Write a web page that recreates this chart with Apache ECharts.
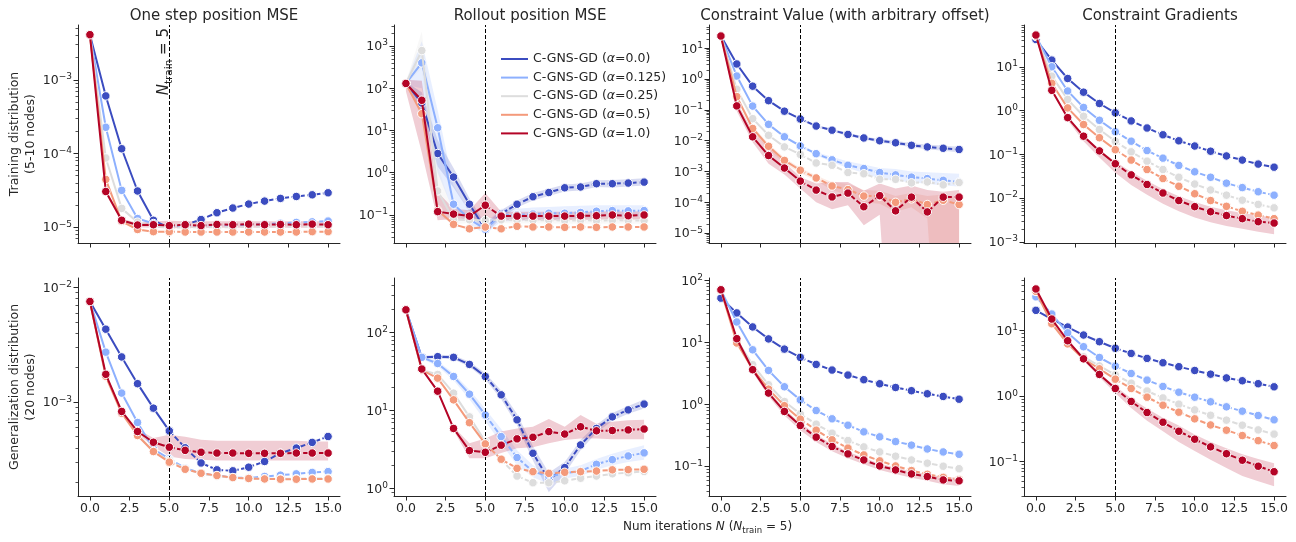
<!DOCTYPE html>
<html><head><meta charset="utf-8">
<script src="https://cdn.jsdelivr.net/npm/echarts@6/dist/echarts.min.js"></script>
<style>html,body{margin:0;padding:0;background:#fff}#c{width:1296px;height:542px}</style>
</head><body><div id="c"></div>
<script>
// ---------------- DATA ----------------
const ITER = [0,1,2,3,4,5,6,7,8,9,10,11,12,13,14,15];
const X_TICKS = [0,2.5,5,7.5,10,12.5,15];
const ALPHA_LABELS = ['C-GNS-GD (α=0.0)','C-GNS-GD (α=0.125)','C-GNS-GD (α=0.25)','C-GNS-GD (α=0.5)','C-GNS-GD (α=1.0)'];
const COL_TITLES = ['One step position MSE','Rollout position MSE','Constraint Value (with arbitrary offset)','Constraint Gradients'];
const ROW_LABELS = ['Training distribution\n(5-10 nodes)','Generalization distribution\n(20 nodes)'];
const N_TRAIN = 5;

// One step position MSE - training
const osTrain_a0   = [4.1e-3,6.05e-4,1.16e-4,3.1e-5,1.24e-5,9.8e-6,1.08e-5,1.27e-5,1.57e-5,1.82e-5,2.06e-5,2.26e-5,2.46e-5,2.61e-5,2.75e-5,2.93e-5];
const osTrain_a125 = [4.1e-3,2.27e-4,3.16e-5,1.31e-5,1.12e-5,1.0e-5,1.03e-5,1.04e-5,1.05e-5,1.06e-5,1.08e-5,1.1e-5,1.13e-5,1.16e-5,1.18e-5,1.21e-5];
const osTrain_a25  = [4.1e-3,8.7e-5,1.8e-5,1.17e-5,1.03e-5,9.9e-6,9.9e-6,1.0e-5,1.0e-5,1.0e-5,1.01e-5,1.01e-5,1.01e-5,1.02e-5,1.02e-5,1.02e-5];
const osTrain_a5   = [4.1e-3,4.45e-5,1.2e-5,9.3e-6,8.7e-6,8.7e-6,8.6e-6,8.6e-6,8.6e-6,8.6e-6,8.6e-6,8.6e-6,8.6e-6,8.6e-6,8.7e-6,8.7e-6];
const osTrain_a1   = [4.1e-3,3.05e-5,1.24e-5,1.07e-5,1.08e-5,1.05e-5,1.08e-5,1.05e-5,1.09e-5,1.08e-5,1.1e-5,1.08e-5,1.09e-5,1.08e-5,1.1e-5,1.08e-5];
const osTrain_a1_hi = [4.3e-3,3.3e-5,1.3e-5,1.15e-5,1.2e-5,1.22e-5,1.2e-5,1.2e-5,1.2e-5,1.2e-5,1.2e-5,1.2e-5,1.2e-5,1.2e-5,1.2e-5,1.2e-5];
const osTrain_a1_lo = [3.9e-3,2.8e-5,1.18e-5,1.0e-5,9.8e-6,9.6e-6,9.8e-6,9.7e-6,9.8e-6,9.8e-6,9.8e-6,9.8e-6,9.8e-6,9.8e-6,9.8e-6,9.8e-6];
const osTrain_ticks = [1e-5,1e-4,1e-3];

// Rollout position MSE - training
const roTrain_a0   = [130,45,2.85,0.79,0.18,0.046,0.107,0.18,0.27,0.34,0.44,0.46,0.55,0.55,0.57,0.6];
const roTrain_a125 = [130,400,11.6,0.18,0.08,0.046,0.1,0.1,0.105,0.11,0.11,0.115,0.123,0.127,0.125,0.127];
const roTrain_a25  = [130,780,0.37,0.077,0.077,0.074,0.077,0.075,0.075,0.075,0.074,0.075,0.074,0.075,0.074,0.074];
const roTrain_a5   = [130,25,0.13,0.06,0.047,0.052,0.047,0.054,0.052,0.052,0.051,0.052,0.051,0.052,0.052,0.052];
const roTrain_a1   = [130,52,0.12,0.105,0.094,0.17,0.094,0.094,0.094,0.094,0.094,0.096,0.096,0.1,0.096,0.1];
const roTrain_a0_hi   = [140,80,6,1.3,0.25,0.06,0.13,0.22,0.33,0.42,0.53,0.56,0.66,0.67,0.7,0.74];
const roTrain_a0_lo   = [120,25,1.4,0.45,0.12,0.036,0.085,0.15,0.22,0.28,0.36,0.38,0.46,0.45,0.47,0.5];
const roTrain_a125_hi = [140,1300,30,0.5,0.12,0.065,0.14,0.14,0.15,0.155,0.16,0.165,0.17,0.17,0.17,0.17];
const roTrain_a125_lo = [120,100,1.0,0.12,0.06,0.035,0.07,0.072,0.075,0.078,0.08,0.085,0.09,0.092,0.09,0.092];
const roTrain_a25_hi  = [140,2200,1.5,0.1,0.09,0.085,0.09,0.09,0.09,0.09,0.09,0.09,0.09,0.09,0.09,0.09];
const roTrain_a25_lo  = [120,300,0.1,0.06,0.065,0.064,0.065,0.063,0.063,0.063,0.062,0.063,0.062,0.063,0.062,0.062];
const roTrain_a1_hi   = [160,150,0.35,0.14,0.13,0.33,0.12,0.12,0.12,0.12,0.12,0.12,0.12,0.125,0.12,0.125];
const roTrain_a1_lo   = [85,3,0.075,0.08,0.07,0.09,0.075,0.075,0.075,0.075,0.075,0.077,0.077,0.08,0.077,0.08];
const roTrain_ticks = [1e-1,1e0,1e1,1e2,1e3];

// Constraint value - training
const cvTrain_a0   = [25,3.1,0.59,0.2,0.091,0.051,0.030,0.022,0.016,0.0123,0.01,0.0086,0.0071,0.0063,0.0057,0.0052];
const cvTrain_a125 = [25,1.26,0.133,0.034,0.0134,0.0068,0.0038,0.0024,0.0016,0.00125,0.00093,0.00078,0.00066,0.00059,0.00052,0.00046];
const cvTrain_a25  = [25,0.47,0.052,0.015,0.0063,0.0036,0.0019,0.0016,0.00093,0.00085,0.00056,0.00056,0.00043,0.00046,0.00037,0.00044];
const cvTrain_a5   = [25,0.27,0.025,0.0066,0.0023,0.0011,0.00062,0.00034,0.00026,0.00016,0.00016,0.0001,0.00013,0.000085,0.000117,0.000085];
const cvTrain_a1   = [25,0.135,0.0134,0.0033,0.0013,0.00049,0.00025,0.00015,0.0002,0.000072,0.000165,0.000053,0.000148,0.000049,0.000148,0.000148];
const cvTrain_a0_hi   = [26,3.3,0.63,0.215,0.098,0.055,0.033,0.024,0.018,0.0138,0.0114,0.0099,0.0083,0.0075,0.0069,0.0064];
const cvTrain_a0_lo   = [24,2.9,0.55,0.186,0.085,0.047,0.027,0.02,0.0142,0.0109,0.0088,0.0075,0.0061,0.0053,0.0047,0.0042];
const cvTrain_a125_hi = [26,1.35,0.145,0.037,0.0147,0.0075,0.0042,0.003,0.0021,0.0017,0.0013,0.0012,0.001,0.00095,0.0009,0.00085];
const cvTrain_a125_lo = [24,1.17,0.122,0.031,0.0122,0.0062,0.0034,0.002,0.0013,0.0009,0.0006,0.0005,0.00045,0.0004,0.00035,0.00033];
const cvTrain_a5_hi   = [26,0.3,0.03,0.008,0.0028,0.0013,0.00075,0.00045,0.0004,0.00025,0.00024,0.00016,0.0002,0.00016,0.00018,0.00014];
const cvTrain_a5_lo   = [24,0.24,0.02,0.0053,0.0018,0.0009,0.0005,0.00025,0.00017,0.0001,0.00009,0.00005,0.00007,3e-5,1e-12,1e-12];
const cvTrain_a1_hi   = [30,0.18,0.02,0.006,0.002,0.00066,0.00041,0.00046,0.00046,0.00024,0.00041,0.00028,0.00035,0.00025,0.00022,0.00025];
const cvTrain_a1_lo   = [21,0.09,0.009,0.0018,0.0008,0.00028,0.0001,0.00006,0.00008,0.000018,4e-5,1e-12,1e-12,1e-12,1e-12,1e-12];
const cvTrain_ticks = [1e-5,1e-4,1e-3,1e-2,1e-1,1e0,1e1];

// Constraint gradients - training
const cgTrain_a0   = [42,14.2,5.4,2.63,1.45,0.89,0.58,0.40,0.28,0.204,0.155,0.118,0.092,0.074,0.06,0.051];
const cgTrain_a125 = [50,10,2.8,1.18,0.6,0.33,0.2,0.122,0.082,0.056,0.04,0.03,0.022,0.0174,0.014,0.0117];
const cgTrain_a25  = [50,6.1,1.8,0.74,0.37,0.2,0.114,0.07,0.045,0.03,0.021,0.0154,0.0117,0.009,0.0072,0.006];
const cgTrain_a5   = [50,4.2,1.15,0.48,0.24,0.128,0.074,0.045,0.028,0.0187,0.0126,0.0088,0.0065,0.005,0.0041,0.0034];
const cgTrain_a1   = [53,2.9,0.69,0.26,0.12,0.061,0.034,0.0205,0.0131,0.0088,0.0064,0.0049,0.004,0.0034,0.0029,0.0027];
const cgTrain_a1_hi = [55,3.1,0.75,0.28,0.13,0.068,0.04,0.025,0.016,0.011,0.0082,0.0064,0.0053,0.0046,0.004,0.0036];
const cgTrain_a1_lo = [50,2.7,0.6,0.2,0.085,0.038,0.02,0.012,0.0075,0.005,0.0036,0.0028,0.0023,0.002,0.0017,0.0015];
const cgTrain_ticks = [1e-3,1e-2,1e-1,1e0,1e1];

// One step position MSE - generalization
const osGen_a0   = [0.00755,0.00433,0.00248,0.00145,0.000887,0.000562,0.0004,0.000295,0.000257,0.000252,0.000271,0.000304,0.000359,0.000398,0.000446,0.000502];
const osGen_a125 = [0.00755,0.00273,0.0012,0.000665,0.00039,0.00032,0.000266,0.00024,0.000229,0.00022,0.000218,0.000225,0.000231,0.000237,0.000244,0.000248];
const osGen_a25  = [0.00755,0.0017,0.00083,0.00052,0.00037,0.00031,0.000262,0.000238,0.000227,0.000219,0.000216,0.000215,0.000215,0.000215,0.000216,0.000217];
const osGen_a5   = [0.00755,0.00168,0.0008,0.000512,0.000371,0.0003,0.00026,0.00024,0.000229,0.00022,0.000216,0.000214,0.000213,0.000213,0.000214,0.000214];
const osGen_a1   = [0.00755,0.00175,0.00083,0.000555,0.000447,0.000405,0.00038,0.000366,0.00036,0.00036,0.000358,0.000358,0.000358,0.00036,0.00036,0.00036];
const osGen_a1_hi = [0.0077,0.0018,0.00086,0.00058,0.000486,0.00052,0.0005,0.00047,0.00046,0.00046,0.00046,0.00046,0.00046,0.00046,0.000455,0.000455];
const osGen_a1_lo = [0.0074,0.0017,0.0008,0.00053,0.00041,0.000336,0.00032,0.000314,0.00031,0.00031,0.00031,0.00031,0.00031,0.00031,0.00031,0.00031];
const osGen_ticks = [1e-3,1e-2];

// Rollout position MSE - generalization
const roGen_a0   = [195,48,49,48,39,27.3,15.9,7.6,2.84,1.3,1.86,3.63,5.9,8.3,10.2,12.1];
const roGen_a125 = [195,48,40,27.3,16.2,8.8,4.64,2.5,1.66,1.43,1.57,1.68,2.05,2.35,2.62,2.87];
const roGen_a25  = [195,33,29,16.7,8.3,4.0,2.34,1.45,1.19,1.19,1.26,1.36,1.45,1.55,1.6,1.66];
const roGen_a5   = [195,33,26,13.7,7.0,3.74,2.38,1.82,1.65,1.57,1.62,1.65,1.68,1.74,1.75,1.77];
const roGen_a1   = [195,34,17.7,5.9,3.07,2.92,3.6,4.34,4.55,5.37,5.0,6.2,5.5,5.55,5.65,5.8];
const roGen_a0_hi   = [200,50,52,51,42,30,18,9,3.5,1.6,2.2,4.2,6.6,9.3,11.4,13.8];
const roGen_a0_lo   = [190,46,46.5,45.5,36.5,25,14,6.5,2.3,0.9,1.55,3.1,5.2,7.4,9.1,10.6];
const roGen_a125_hi = [200,50,43,30,18.5,10.5,5.8,3.1,2.0,1.6,1.8,2.0,2.4,2.8,3.2,3.6];
const roGen_a125_lo = [190,46,37,24.5,14,7.3,3.8,2.0,1.4,1.15,1.35,1.45,1.75,2.0,2.2,2.35];
const roGen_a1_hi   = [200,36,18.5,6.2,3.8,4.4,5.4,5.9,6.2,7.8,6.2,8.8,6.8,7.2,7.5,7.6];
const roGen_a1_lo   = [190,32,17,5.6,2.45,2.45,2.85,3.3,3.4,3.8,4.2,4.4,4.4,4.3,4.3,4.3];
const roGen_ticks = [1e0,1e1,1e2];

// Constraint value - generalization
const cvGen_a0   = [52,30,17.8,11.4,7.8,5.74,4.42,3.58,2.97,2.5,2.15,1.87,1.66,1.48,1.34,1.21];
const cvGen_a125 = [70,21.4,7.6,3.53,1.92,1.18,0.794,0.583,0.46,0.359,0.298,0.25,0.219,0.19,0.17,0.156];
const cvGen_a25  = [70,11,4.37,2.07,1.11,0.7,0.478,0.342,0.26,0.205,0.17,0.145,0.126,0.112,0.1,0.091];
const cvGen_a5   = [70,9.8,3.7,1.76,0.95,0.576,0.382,0.267,0.196,0.152,0.122,0.101,0.085,0.074,0.066,0.061];
const cvGen_a1   = [71,11.5,3.63,1.52,0.767,0.455,0.295,0.208,0.158,0.126,0.101,0.087,0.075,0.068,0.06,0.058];
const cvGen_a1_hi = [73,12.3,3.9,1.65,0.84,0.5,0.325,0.228,0.172,0.137,0.11,0.095,0.082,0.075,0.067,0.065];
const cvGen_a1_lo = [69,10.5,3.3,1.35,0.66,0.38,0.245,0.175,0.135,0.108,0.087,0.075,0.065,0.058,0.051,0.048];
const cvGen_ticks = [1e-1,1e0,1e1,1e2];

// Constraint gradients - generalization
const cgGen_a0   = [20.5,15,11.4,8.6,6.8,5.4,4.5,3.78,3.24,2.82,2.47,2.17,1.9,1.72,1.55,1.39];
const cgGen_a125 = [33,18,9.3,5.7,3.9,2.88,2.22,1.76,1.41,1.15,0.965,0.82,0.687,0.59,0.506,0.435];
const cgGen_a25  = [40,13.1,6.5,4.0,2.9,2.12,1.58,1.2,0.94,0.755,0.617,0.51,0.43,0.36,0.305,0.263];
const cgGen_a5   = [40,12.8,6.3,3.7,2.62,1.82,1.31,0.966,0.728,0.569,0.45,0.363,0.302,0.25,0.209,0.176];
const cgGen_a1   = [43.5,15.1,7.03,3.72,2.15,1.31,0.83,0.562,0.4,0.291,0.22,0.168,0.132,0.105,0.085,0.07];
const cgGen_a1_hi = [45,15.5,7.2,3.8,2.25,1.42,0.93,0.65,0.47,0.355,0.26,0.2,0.16,0.13,0.11,0.094];
const cgGen_a1_lo = [42,14.7,6.8,3.5,1.95,1.12,0.66,0.42,0.29,0.2,0.145,0.107,0.08,0.06,0.05,0.042];
const cgGen_ticks = [1e-1,1e0,1e1];

// ---------------- STYLE / LAYOUT ----------------
const COLORS = ['#3b4cc0','#8db0fe','#dddddd','#f49a7b','#b40426'];
const FONT = 'DejaVu Sans';
const TXT = '#262626';
const GRID_LEFT = [78,394,709,1024];
const GRID_TOP = [25,278];
const GRID_W = 262, GRID_H = 218;

const PANELS = [
  {s:[osTrain_a0,osTrain_a125,osTrain_a25,osTrain_a5,osTrain_a1], ticks:osTrain_ticks, lim:[6.1e-6,5.55e-3],
   bands:[{k:4,lo:osTrain_a1_lo,hi:osTrain_a1_hi}]},
  {s:[roTrain_a0,roTrain_a125,roTrain_a25,roTrain_a5,roTrain_a1], ticks:roTrain_ticks, lim:[0.0217,3150],
   bands:[{k:0,lo:roTrain_a0_lo,hi:roTrain_a0_hi},{k:1,lo:roTrain_a125_lo,hi:roTrain_a125_hi},{k:2,lo:roTrain_a25_lo,hi:roTrain_a25_hi},{k:4,lo:roTrain_a1_lo,hi:roTrain_a1_hi}]},
  {s:[cvTrain_a0,cvTrain_a125,cvTrain_a25,cvTrain_a5,cvTrain_a1], ticks:cvTrain_ticks, lim:[4.8e-6,57],
   bands:[{k:0,lo:cvTrain_a0_lo,hi:cvTrain_a0_hi},{k:1,lo:cvTrain_a125_lo,hi:cvTrain_a125_hi},{k:3,lo:cvTrain_a5_lo,hi:cvTrain_a5_hi},{k:4,lo:cvTrain_a1_lo,hi:cvTrain_a1_hi}]},
  {s:[cgTrain_a0,cgTrain_a125,cgTrain_a25,cgTrain_a5,cgTrain_a1], ticks:cgTrain_ticks, lim:[9.46e-4,90],
   bands:[{k:4,lo:cgTrain_a1_lo,hi:cgTrain_a1_hi}]},
  {s:[osGen_a0,osGen_a125,osGen_a25,osGen_a5,osGen_a1], ticks:osGen_ticks, lim:[1.52e-4,0.0121],
   bands:[{k:4,lo:osGen_a1_lo,hi:osGen_a1_hi}]},
  {s:[roGen_a0,roGen_a125,roGen_a25,roGen_a5,roGen_a1], ticks:roGen_ticks, lim:[0.805,498],
   bands:[{k:0,lo:roGen_a0_lo,hi:roGen_a0_hi},{k:1,lo:roGen_a125_lo,hi:roGen_a125_hi},{k:4,lo:roGen_a1_lo,hi:roGen_a1_hi}]},
  {s:[cvGen_a0,cvGen_a125,cvGen_a25,cvGen_a5,cvGen_a1], ticks:cvGen_ticks, lim:[0.033,110],
   bands:[{k:4,lo:cvGen_a1_lo,hi:cvGen_a1_hi}]},
  {s:[cgGen_a0,cgGen_a125,cgGen_a25,cgGen_a5,cgGen_a1], ticks:cgGen_ticks, lim:[0.0298,64],
   bands:[{k:4,lo:cgGen_a1_lo,hi:cgGen_a1_hi}]}
];

function minorTicks(lim){
  const out=[];
  for(let e=Math.floor(Math.log10(lim[0]))-1;e<=Math.ceil(Math.log10(lim[1]));e++){
    for(let m=2;m<=9;m++){const v=m*Math.pow(10,e); if(v>=lim[0]&&v<=lim[1]) out.push(v);}
  }
  return out;
}
function powLabel(v){
  const e=Math.round(Math.log10(v));
  return '{b|10}{sup|'+(e<0?'\u2212'+(-e):String(e))+'}';
}
const supRich = {
  b:{fontSize:12.5,fontFamily:FONT,color:TXT,verticalAlign:'bottom'},
  sup:{fontSize:9,fontFamily:FONT,color:TXT,padding:[0,0,6,0],verticalAlign:'bottom'}
};

const grid=[],xAxis=[],yAxis=[],series=[],title=[];
PANELS.forEach((P,p)=>{
  const r=p<4?0:1, c=p%4;
  grid.push({left:GRID_LEFT[c],top:GRID_TOP[r],width:GRID_W,height:GRID_H,containLabel:false});
  xAxis.push({gridIndex:p,type:'value',min:-0.75,max:15.75,position:'bottom',
    axisLine:{show:true,onZero:false,lineStyle:{color:TXT,width:1}},
    axisTick:{show:true,customValues:X_TICKS,length:4.5,lineStyle:{color:TXT,width:1}},
    axisLabel:{show:r===1,customValues:X_TICKS,formatter:v=>Number(v).toFixed(1),color:TXT,fontSize:12.5,fontFamily:FONT,margin:6},
    splitLine:{show:false}});
  const ya={gridIndex:p,type:'log',logBase:10,min:P.lim[0],max:P.lim[1],position:'left',
    axisLine:{show:true,onZero:false,lineStyle:{color:TXT,width:1}},
    axisTick:{show:true,customValues:P.ticks,length:4.5,lineStyle:{color:TXT,width:1}},
    axisLabel:{show:true,customValues:P.ticks,formatter:powLabel,rich:supRich,margin:6},
    splitLine:{show:false},minorTick:{show:false}};
  if(c===0){
    Object.assign(ya,{name:ROW_LABELS[r],nameLocation:'middle',nameRotate:90,nameGap:31,
      nameTextStyle:{fontSize:12.5,fontFamily:FONT,color:TXT,lineHeight:16,align:'center'}});
  }
  yAxis.push(ya);
  yAxis.push({gridIndex:p,type:'log',logBase:10,min:P.lim[0],max:P.lim[1],position:'left',offset:0,
    axisLine:{show:false,onZero:false},
    axisTick:{show:true,customValues:minorTicks(P.lim),length:2.5,lineStyle:{color:TXT,width:0.8}},
    axisLabel:{show:false},splitLine:{show:false}});
  // confidence bands
  P.bands.forEach(B=>{
    series.push({type:'custom',xAxisIndex:p,yAxisIndex:2*p,silent:true,clip:true,z:1,
      data:[[ITER[0],B.hi[0]]],
      renderItem:(params,api)=>{
        const pts=[];
        for(let i=0;i<ITER.length;i++) pts.push(api.coord([ITER[i],B.hi[i]]));
        for(let i=ITER.length-1;i>=0;i--) pts.push(api.coord([ITER[i],B.lo[i]]));
        return {type:'polygon',shape:{points:pts},style:{fill:COLORS[B.k],opacity:0.2}};
      }});
  });
  // lines: solid up to N_train, dashed after
  P.s.forEach((vals,k)=>{
    const common={type:'line',name:ALPHA_LABELS[k],xAxisIndex:p,yAxisIndex:2*p,
      symbol:'circle',symbolSize:8.5,showSymbol:true,z:2+k,silent:true,
      itemStyle:{color:COLORS[k],borderColor:'#fff',borderWidth:1},
      emphasis:{disabled:true},animation:false};
    const solid=Object.assign({},common,{
      data:ITER.filter(x=>x<=N_TRAIN).map(x=>[x,vals[x]]),
      lineStyle:{color:COLORS[k],width:2,type:'solid'}});
    if(k===0){
      solid.markLine={silent:true,symbol:'none',animation:false,
        data:[{xAxis:N_TRAIN}],
        lineStyle:{color:'#000',type:[4,2],width:1},
        label:p===0?{show:true,position:'insideEndTop',distance:[3,-5],
          formatter:'{i|N}{s|train}{t| = 5}',
          rich:{i:{fontSize:15,fontStyle:'italic',fontFamily:FONT,color:TXT,verticalAlign:'top'},
                s:{fontSize:10.5,fontFamily:FONT,color:TXT,padding:[7,0,0,0],verticalAlign:'top'},
                t:{fontSize:15,fontFamily:FONT,color:TXT,verticalAlign:'top'}}}:{show:false}};
    }
    const dashed=Object.assign({},common,{
      data:ITER.filter(x=>x>=N_TRAIN).map(x=>[x,vals[x]]),
      lineStyle:{color:COLORS[k],width:2,type:[5.5,2.4]}});
    series.push(solid,dashed);
  });
  if(r===0){
    title.push({text:COL_TITLES[c],left:GRID_LEFT[c]+GRID_W/2,top:4,textAlign:'center',
      textStyle:{fontSize:15,fontWeight:'normal',fontFamily:FONT,color:TXT}});
  }
});
title.push({text:'{t|Num iterations }{i|N}{t| (}{i|N}{s|train}{t| = 5)}',left:618,top:516,
  textStyle:{fontSize:12.5,fontWeight:'normal',fontFamily:FONT,color:TXT,
    rich:{t:{fontSize:12,fontFamily:FONT,color:TXT,verticalAlign:'top'},
          i:{fontSize:12,fontStyle:'italic',fontFamily:FONT,color:TXT,verticalAlign:'top'},
          s:{fontSize:8.5,fontFamily:FONT,color:TXT,padding:[5,0,0,0],verticalAlign:'top'}}}});

const chart=echarts.init(document.getElementById('c'),null,{renderer:'canvas'});
chart.setOption({
  animation:false,backgroundColor:'#fff',
  textStyle:{fontFamily:FONT},
  title, grid, xAxis, yAxis, series,
  legend:{show:true,data:ALPHA_LABELS,orient:'vertical',left:496,top:47,itemWidth:27,itemHeight:2,icon:'rect',
    itemGap:4.6,selectedMode:false,itemStyle:{borderWidth:0},
    formatter:n=>n.replace('α','{i|α}'),
    textStyle:{fontSize:12.5,fontFamily:FONT,color:TXT,lineHeight:14,
      rich:{i:{fontSize:12.5,fontStyle:'italic',fontFamily:FONT,color:TXT}}}}
});
</script></body></html>
